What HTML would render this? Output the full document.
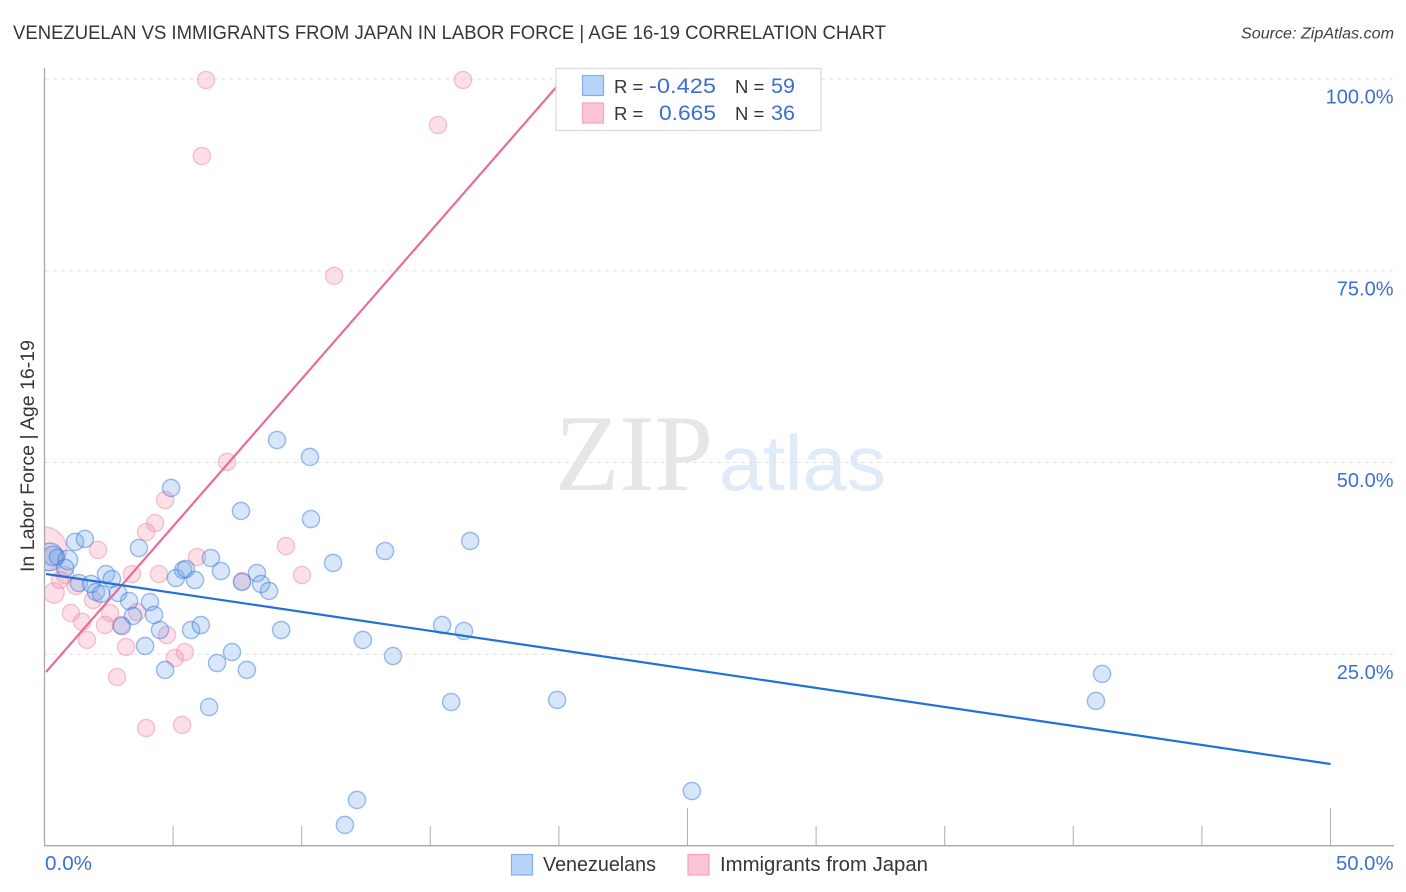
<!DOCTYPE html>
<html lang="en">
<head>
<meta charset="utf-8">
<title>Venezuelan vs Immigrants from Japan in Labor Force | Age 16-19 Correlation Chart</title>
<style>
  html, body { margin: 0; padding: 0; background: #fff; }
  svg { display: block; font-family: "Liberation Sans", sans-serif; }
</style>
</head>
<body>
<svg id="chart" xmlns="http://www.w3.org/2000/svg" width="1406" height="892" viewBox="0 0 1406 892">
  <rect width="1406" height="892" fill="#ffffff"></rect>
  <text x="13" y="39" font-size="19" fill="#35353d" textLength="873" lengthAdjust="spacingAndGlyphs">VENEZUELAN VS IMMIGRANTS FROM JAPAN IN LABOR FORCE | AGE 16-19 CORRELATION CHART</text>
  <text x="1394" y="38.5" font-size="15.5" font-style="italic" fill="#3f3f47" text-anchor="end" textLength="153" lengthAdjust="spacingAndGlyphs">Source: ZipAtlas.com</text>

  <g>
    <text x="555" y="490" font-family="'Liberation Serif', serif" font-size="109" fill="#e6e6e6" textLength="158" lengthAdjust="spacingAndGlyphs">ZIP</text>
    <text x="719" y="490" font-size="78" fill="#e0ebf9" textLength="167" lengthAdjust="spacingAndGlyphs">atlas</text>
  </g>

  <g id="grid"></g>
  <g id="x-ticks"></g>
  <g id="points"></g>
  <rect x="0" y="500" width="44.5" height="130" fill="#ffffff"></rect>
  <g id="axes">
    <line x1="44.5" y1="68" x2="44.5" y2="846" stroke="#a9a9a9" stroke-width="1.3"></line>
    <line x1="44" y1="845.7" x2="1394" y2="845.7" stroke="#a9a9a9" stroke-width="1.3"></line>
  </g>
  <g id="trends"></g>
  <g id="tick-labels"></g>

  <text transform="translate(34,456) rotate(-90)" font-size="19" fill="#35353d" text-anchor="middle" textLength="232" lengthAdjust="spacingAndGlyphs">In Labor Force | Age 16-19</text>

  <g>
    <rect x="556" y="68.5" width="265" height="62" fill="#ffffff" stroke="#dcdcdc" stroke-width="1.3"></rect>
    <rect x="582.5" y="75.5" width="21" height="20" fill="#b7d4f8" stroke="#7fb0ea" stroke-width="1.2"></rect>
    <rect x="582.5" y="103" width="21" height="20" fill="#fcc5d6" stroke="#f2a3bd" stroke-width="1.2"></rect>
    <text x="614" y="93" font-size="18.5" fill="#35353d">R =</text>
    <text x="649" y="93" font-size="21" fill="#3a70d2" textLength="67" lengthAdjust="spacingAndGlyphs">-0.425</text>
    <text x="735" y="93" font-size="18.5" fill="#35353d">N =</text>
    <text x="771" y="93" font-size="21" fill="#3a70d2" textLength="24" lengthAdjust="spacingAndGlyphs">59</text>
    <text x="614" y="120" font-size="18.5" fill="#35353d">R =</text>
    <text x="659" y="120" font-size="21" fill="#3a70d2" textLength="57" lengthAdjust="spacingAndGlyphs">0.665</text>
    <text x="735" y="120" font-size="18.5" fill="#35353d">N =</text>
    <text x="771" y="120" font-size="21" fill="#3a70d2" textLength="24" lengthAdjust="spacingAndGlyphs">36</text>
  </g>

  <g>
    <g>
      <rect x="511.5" y="854.5" width="21" height="20.5" fill="#b7d4f8" stroke="#7fb0ea" stroke-width="1.2"></rect>
      <text x="543" y="871" font-size="20" fill="#35353d" textLength="113" lengthAdjust="spacingAndGlyphs">Venezuelans</text>
    </g>
    <g>
      <rect x="688" y="854.5" width="21" height="20.5" fill="#fcc5d6" stroke="#f2a3bd" stroke-width="1.2"></rect>
      <text x="720" y="871" font-size="20" fill="#35353d" textLength="208" lengthAdjust="spacingAndGlyphs">Immigrants from Japan</text>
    </g>
  </g>
</svg>

<script>
// ---- Data (percent units) ----
const blueX = [0.21,0.33,0.49,0.91,0.80,1.19,1.57,1.34,2.39,2.62,1.81,2.00,2.20,2.86,3.29,4.10,4.26,3.44,3.01,4.49,3.91,4.69,4.92,3.67,7.64,10.32,10.36,11.22,6.47,6.86,8.26,8.42,8.73,7.68,5.11,5.39,5.50,5.85,5.70,6.08,6.71,7.29,7.87,6.40,9.20,9.04,12.38,13.24,13.55,15.46,16.31,15.81,16.55,19.93,25.17,12.15,11.68,41.12,40.88];
const blueY = [37.68,37.81,37.68,37.29,36.25,39.64,40.03,34.29,35.46,34.81,34.16,33.12,32.86,32.99,31.94,31.81,30.12,29.99,28.68,28.16,26.08,22.95,46.68,38.85,43.68,50.72,42.63,36.90,37.55,35.85,35.59,34.16,33.25,34.42,34.94,35.98,36.12,34.68,28.16,28.81,23.86,25.29,22.95,18.12,28.16,52.93,26.86,38.46,24.77,28.81,28.03,18.77,39.77,19.04,7.17,6.00,2.74,22.43,18.91];
const blueWeights = [2.6,1.3,0.8,1.3,1,1,1,1,1,1,1,1,1,1,1,1,1,1,1,1,1,1,1,1,1,1,1,1,1,1,1,1,1,1,1,1,1,1,1,1,1,1,1,1,1,1,1,1,1,1,1,1,1,1,1,1,1,1,1];

const pinkX = [0.00,7.10,4.69,4.30,3.95,2.08,5.93,9.39,10.01,7.68,3.40,4.45,0.80,0.60,1.22,0.37,1.03,1.46,1.65,1.89,2.55,2.35,2.97,3.60,3.17,4.76,5.07,5.46,2.82,3.95,5.35,6.28,16.27,15.30,6.12,11.26];
const pinkY = [38.72,50.07,45.11,42.11,40.94,38.59,37.68,39.11,35.33,34.55,35.46,35.46,35.33,34.68,33.90,32.99,30.38,29.21,26.86,32.07,30.38,28.81,28.81,30.51,25.95,27.51,24.51,25.29,22.03,15.38,15.78,99.87,99.87,94.00,89.96,74.32];
const pinkWeights = [6.5,1,1,1,1,1,1,1,1,1,1,1,1,1,1,1.4,1,1,1,1,1,1,1,1,1,1,1,1,1,1,1,1,1,1,1,1];

const blueTrendX = [0.06, 50];
const blueTrendY = [35.46, 10.69];
const pinkTrendX = [0.06, 19.97];
const pinkTrendY = [22.69, 99.22];

const yTicks = [25, 50, 75, 100];
const yTickLabels = ['25.0%', '50.0%', '75.0%', '100.0%'];
const xTicks = [5, 10, 15, 20, 25, 30, 35, 40, 45, 50];
const xMajorTicks = [25, 50];
const xTickLabels = ['0.0%', '50.0%'];

// ---- Axis functions ----
const NS = 'http://www.w3.org/2000/svg';
function sx(v) { return 44.5 + v * 25.72; }
function sy(v) { return 846 - v * 7.67; }
function radius(w) { return 8.6 * Math.sqrt(w); }
function make(tag, parent, attrs) {
  const el = document.createElementNS(NS, tag);
  for (const k in attrs) el.setAttribute(k, attrs[k]);
  parent.appendChild(el);
  return el;
}

const grid = document.getElementById('grid');
const xTickGroup = document.getElementById('x-ticks');
const pointsGroup = document.getElementById('points');
const trends = document.getElementById('trends');
const labels = document.getElementById('tick-labels');

yTicks.forEach(function (t, i) {
  const line = make('line', grid, { x1: 45, x2: 1394, y1: sy(t), y2: sy(t), stroke: '#e2e2e2', 'stroke-width': 1, 'stroke-dasharray': '4 4' });
  
  
  const label = make('text', labels, { x: 1393.5, y: sy(t) + 24.5, 'font-size': 20, fill: '#3a70d2', 'text-anchor': 'end' });
  label.textContent = yTickLabels[i];
  
  
});

xTicks.forEach(function (t) {
  const major = xMajorTicks.indexOf(t) >= 0;
  const tick = make('line', xTickGroup, { x1: sx(t), x2: sx(t), y1: major ? 808 : 826, y2: 846, stroke: '#b4b4b4', 'stroke-width': 1.1 });
  
  
});

const xLabel0 = make('text', labels, { x: 45, y: 870, 'font-size': 20, fill: '#3a70d2', textLength: 47, lengthAdjust: 'spacingAndGlyphs' });
xLabel0.textContent = xTickLabels[0];


const xLabel50 = make('text', labels, { x: 1336, y: 870, 'font-size': 20, fill: '#3a70d2', textLength: 57.5, lengthAdjust: 'spacingAndGlyphs' });
xLabel50.textContent = xTickLabels[1];



pinkX.forEach(function (x, i) {
  const c = make('circle', pointsGroup, { cx: sx(x), cy: sy(pinkY[i]), r: radius(pinkWeights[i]), fill: 'rgba(247,150,180,0.30)', stroke: 'rgba(238,130,165,0.45)', 'stroke-width': 1.4 });
  
  
});
blueX.forEach(function (x, i) {
  const c = make('circle', pointsGroup, { cx: sx(x), cy: sy(blueY[i]), r: radius(blueWeights[i]), fill: 'rgba(110,165,235,0.28)', stroke: 'rgba(45,115,215,0.46)', 'stroke-width': 1.4 });
  
  
});

const pinkTrend = make('line', trends, { x1: sx(pinkTrendX[0]), y1: sy(pinkTrendY[0]), x2: sx(pinkTrendX[1]), y2: sy(pinkTrendY[1]), stroke: '#e96b9b', 'stroke-width': 2.2 });


const blueTrend = make('line', trends, { x1: sx(blueTrendX[0]), y1: sy(blueTrendY[0]), x2: sx(blueTrendX[1]), y2: sy(blueTrendY[1]), stroke: '#2271d9', 'stroke-width': 2.2 });


</script>
</body>
</html>
